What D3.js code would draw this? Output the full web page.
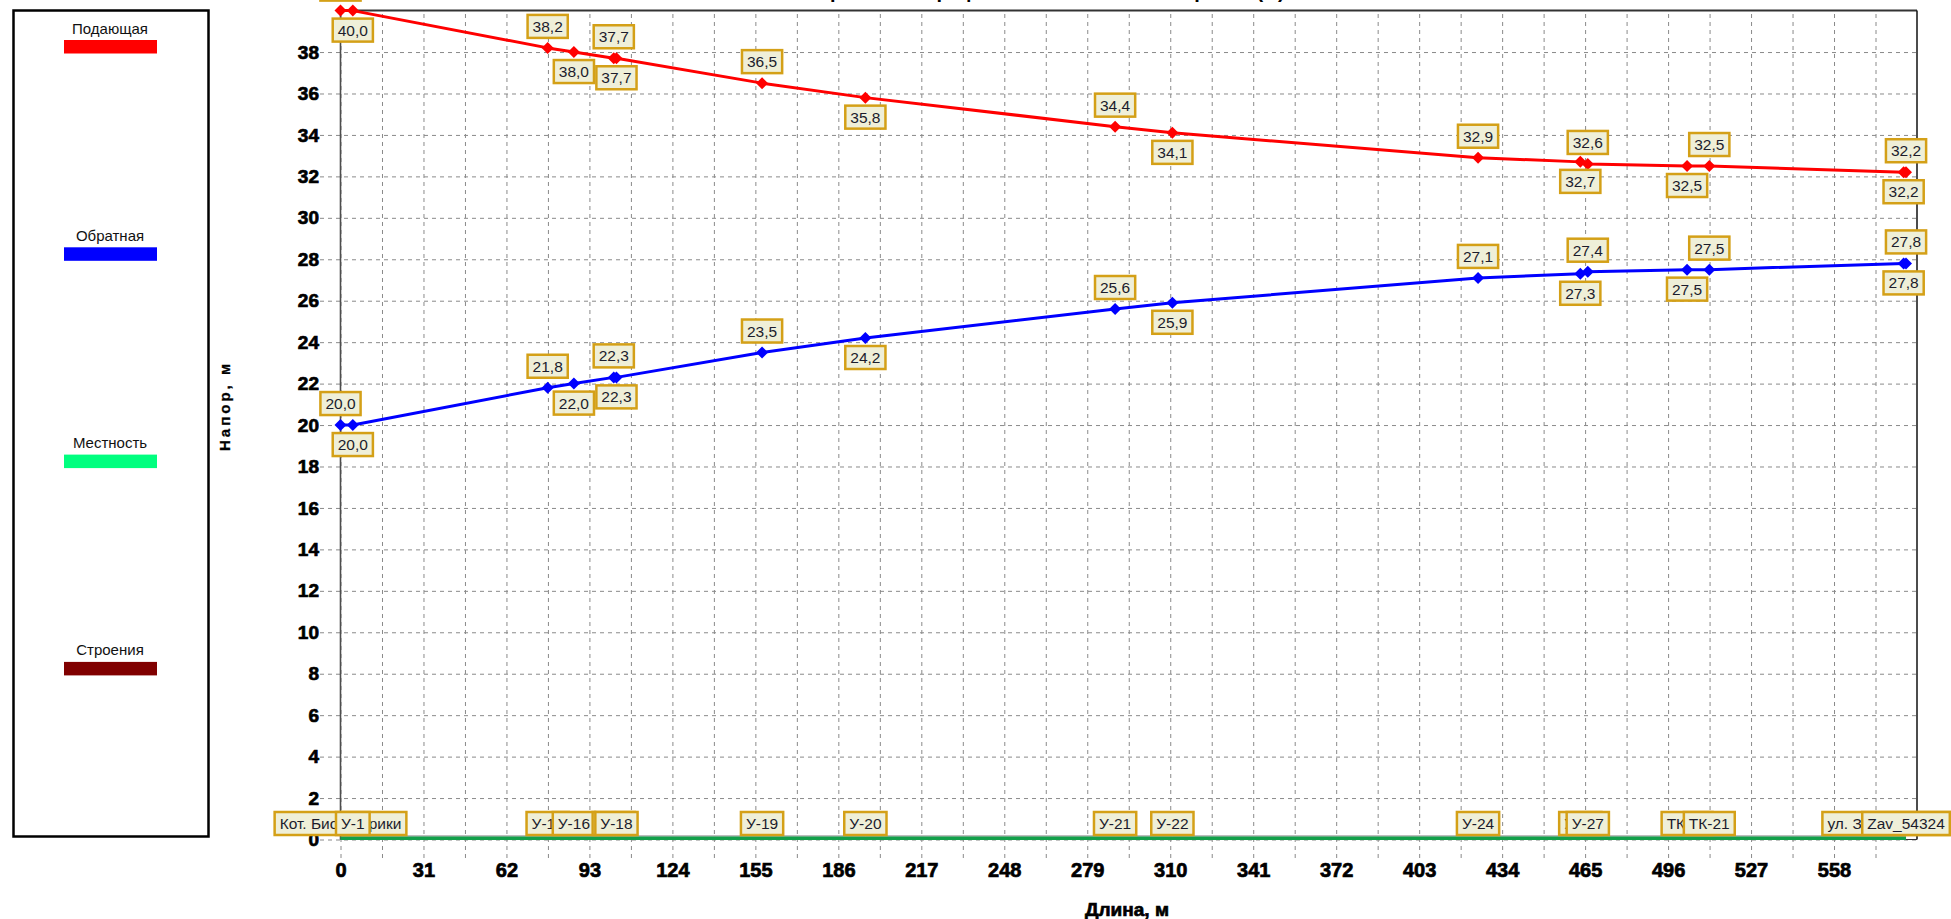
<!DOCTYPE html>
<html>
<head>
<meta charset="utf-8">
<script src="https://cdn.jsdelivr.net/npm/d3@7"></script>
<style>
  html, body { margin: 0; padding: 0; background: #ffffff; overflow: hidden; }
  svg { display: block; }
</style>
</head>
<body>
<svg id="chart" width="1951" height="919"></svg>
<script>
// Узлы трассы и расстояние от источника, м
const nodeNames = ["Кот. Биофабрики", "У-1", "У-15", "У-16", "У-17", "У-18", "У-19", "У-20", "У-21", "У-22",
                   "У-24", "У-26", "У-27", "ТК-20", "ТК-21", "ул. Заводская, д. 12а", "Zav_54324"];
const lengths   = [0, 4.6, 77.4, 87.2, 102.1, 103.1, 157.5, 196.1, 289.4, 310.8,
                   425.0, 463.2, 466.0, 503.1, 511.4, 584.0, 584.9];

// Напор, м
const supplyHead = [40.0, 40.0, 38.2, 38.0, 37.7, 37.7, 36.5, 35.8, 34.4, 34.1,
                    32.9, 32.7, 32.6, 32.5, 32.5, 32.2, 32.2];
const returnHead = [20.0, 20.0, 21.8, 22.0, 22.3, 22.3, 23.5, 24.2, 25.6, 25.9,
                    27.1, 27.3, 27.4, 27.5, 27.5, 27.8, 27.8];
const terrain    = [0, 0, 0, 0, 0, 0, 0, 0, 0, 0, 0, 0, 0, 0, 0, 0, 0];

// Подписи осей
const xTickLabels = [0, 31, 62, 93, 124, 155, 186, 217, 248, 279, 310, 341, 372, 403, 434, 465, 496, 527, 558];
const yTickLabels = [0, 2, 4, 6, 8, 10, 12, 14, 16, 18, 20, 22, 24, 26, 28, 30, 32, 34, 36, 38];

// Легенда
const legendNames  = ["Подающая", "Обратная", "Местность", "Строения"];
const legendColors = ["#ff0000", "#0000ff", "#00ff7f", "#800000"];

const svg = d3.select("#chart");
const fmt = v => v.toFixed(1).replace(".", ",");

const plot = { left: 340.5, right: 1917, top: 10.6, bottom: 839.5 };
const x = d3.scaleLinear().domain([0, 589]).range([plot.left, plot.right]);
const y = d3.scaleLinear().domain([0, 40]).range([plot.bottom, plot.top]);

const tickFont = "'Liberation Sans Narrow', 'Arial Narrow', 'Liberation Sans', sans-serif";
const labelFont = "'Liberation Sans', Arial, sans-serif";

// Заголовок (выходит за верхний край окна)
svg.append("text")
  .attr("x", 1010).attr("y", -2.5)
  .attr("text-anchor", "middle")
  .style("font-family", labelFont).style("font-weight", "bold").style("font-size", "20px")
  .attr("fill", "#000")
  .text("Пьезометрический график тепловой сети по трассе (м)");

// Легенда
const legend = svg.append("g");
legend.append("rect")
  .attr("x", 13.5).attr("y", 10.5).attr("width", 195).attr("height", 826)
  .attr("fill", "#fff").attr("stroke", "#000").attr("stroke-width", 2.5);
legendNames.forEach((name, i) => {
  const top = 40 + i * 207.3;
  legend.append("text")
    .attr("x", 110).attr("y", top - 6.5)
    .attr("text-anchor", "middle")
    .style("font-family", labelFont).style("font-size", "15px")
    .attr("fill", "#111")
    .text(name);
  legend.append("rect")
    .attr("x", 64).attr("y", top).attr("width", 93).attr("height", 13.5)
    .attr("fill", legendColors[i]);
});

function heavyTicks(sel, size) {
  sel.style("font-family", tickFont).style("font-weight", "bold").style("font-size", size)
    .attr("fill", "#000").attr("stroke", "#000").attr("stroke-width", 0.7);
}

// Сетка и подписи оси напора
const yAxis = d3.axisLeft(y)
  .tickValues(yTickLabels)
  .tickSizeInner(-(plot.right - 320))
  .tickSizeOuter(0)
  .tickPadding(1)
  .tickFormat(d => d);
const gy = svg.append("g").attr("transform", "translate(320,0)").call(yAxis);
gy.select(".domain").remove();
gy.selectAll(".tick line")
  .attr("stroke", "#8a8a8a").attr("stroke-width", 1).attr("stroke-dasharray", "4,4");
heavyTicks(gy.selectAll(".tick text"), "19px");

// Сетка и подписи оси длины
const xGrid = d3.range(0, 589, 15.5);
const xAxis = d3.axisBottom(x)
  .tickValues(xGrid)
  .tickSizeInner(-(858 - plot.top))
  .tickSizeOuter(0)
  .tickPadding(5)
  .tickFormat(d => xTickLabels.includes(d) ? d : "");
const gx = svg.append("g").attr("transform", "translate(0,858)").call(xAxis);
gx.select(".domain").remove();
gx.selectAll(".tick line")
  .attr("stroke", "#8a8a8a").attr("stroke-width", 1).attr("stroke-dasharray", "4,4");
heavyTicks(gx.selectAll(".tick text"), "20px");

// Рамка области построения
const frame = svg.append("g").attr("fill", "none");
frame.append("line").attr("x1", plot.left).attr("x2", plot.right).attr("y1", plot.top).attr("y2", plot.top)
  .attr("stroke", "#333").attr("stroke-width", 2);
frame.append("line").attr("x1", plot.right).attr("x2", plot.right).attr("y1", plot.top).attr("y2", plot.bottom)
  .attr("stroke", "#111").attr("stroke-width", 1.5);
frame.append("line").attr("x1", plot.left).attr("x2", plot.right).attr("y1", plot.bottom).attr("y2", plot.bottom)
  .attr("stroke", "#333").attr("stroke-width", 1.2);
frame.append("line").attr("x1", plot.left).attr("x2", plot.left).attr("y1", plot.top).attr("y2", plot.bottom)
  .attr("stroke", "#4d4d4d").attr("stroke-width", 1.6);

// Подписи осей
svg.append("text")
  .attr("transform", "translate(230,406) rotate(-90)")
  .attr("text-anchor", "middle")
  .style("font-family", labelFont).style("font-weight", "bold").style("font-size", "15px")
  .style("letter-spacing", "3px")
  .attr("fill", "#000").attr("stroke", "#000").attr("stroke-width", 0.3)
  .text("Напор, м");
const xTitle = svg.append("text")
  .attr("x", 1127).attr("y", 916)
  .attr("text-anchor", "middle")
  .text("Длина, м");
heavyTicks(xTitle, "19px");

// Местность
svg.append("path")
  .attr("d", d3.line().x((d, i) => x(lengths[i])).y(d => y(d) - 3.5)(terrain))
  .attr("fill", "none").attr("stroke", "#7a7a7a").attr("stroke-width", 1);
svg.append("path")
  .attr("d", d3.line().x((d, i) => x(lengths[i])).y(d => y(d) - 1.2)(terrain))
  .attr("fill", "none").attr("stroke", "#12a04a").attr("stroke-width", 3.6);

// Линии напора и маркеры
const headLine = d3.line().x((d, i) => x(lengths[i])).y(d => y(d));
const diamond = d3.symbol().type(d3.symbolSquare).size(72);
[[supplyHead, "#ff0000"], [returnHead, "#0000ff"]].forEach(([values, color]) => {
  svg.append("path").datum(values)
    .attr("d", headLine)
    .attr("fill", "none").attr("stroke", color).attr("stroke-width", 3)
    .attr("stroke-linejoin", "round");
  svg.append("g").selectAll("path").data(values).join("path")
    .attr("d", diamond)
    .attr("transform", (d, i) => `translate(${x(lengths[i])},${y(d)}) rotate(45)`)
    .attr("fill", color);
});

// Выноски со значениями
function callout(g, cx, text, placeBox) {
  const t = g.append("text")
    .style("font-family", labelFont).style("font-size", "15.5px")
    .attr("fill", "#1c1c2c")
    .attr("text-anchor", "middle")
    .text(text);
  const w = t.node().getComputedTextLength() + 10;
  const h = 23;
  const top = placeBox(h);
  g.insert("rect", "text")
    .attr("x", cx - w / 2).attr("y", top).attr("width", w).attr("height", h)
    .attr("fill", "#efefd8").attr("stroke", "#d4a017").attr("stroke-width", 2.5);
  t.attr("x", cx).attr("y", top + h / 2 + 5.5);
}

[supplyHead, returnHead].forEach(values => {
  const layer = svg.append("g");
  values.forEach((v, i) => {
    const cx = x(lengths[i]);
    const py = y(v);
    const above = i % 2 === 0;
    callout(layer.append("g"), cx, fmt(v), h => above ? py - 10 - h : py + 8);
  });
});

// Подписи узлов
const nodeLayer = svg.append("g");
nodeNames.forEach((name, i) => {
  callout(nodeLayer.append("g"), x(lengths[i]), name, h => 812);
});
</script>
</body>
</html>
